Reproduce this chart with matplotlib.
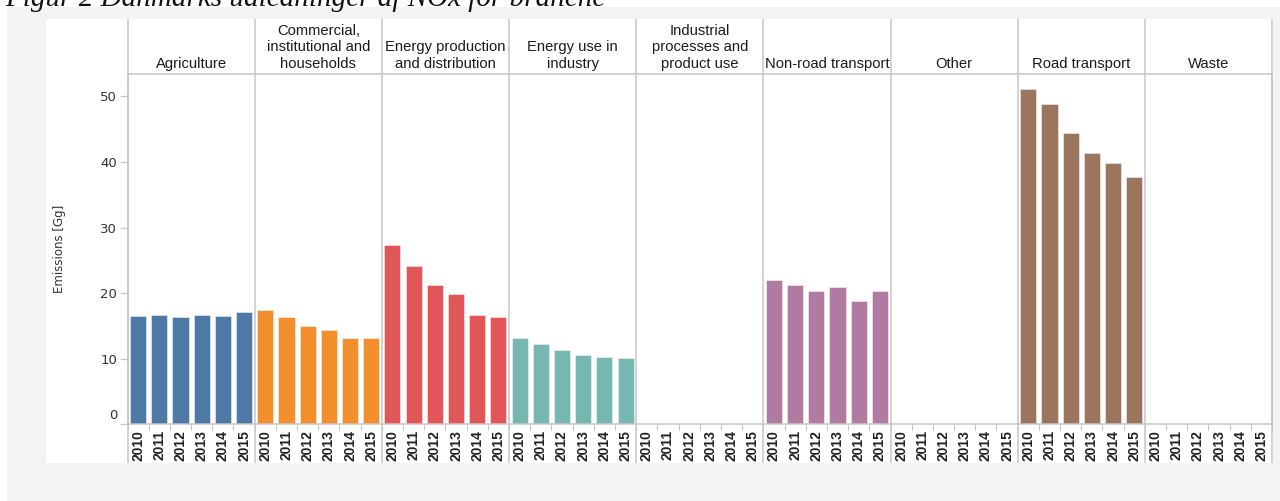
import matplotlib
matplotlib.use("Agg")
import matplotlib.pyplot as plt
import matplotlib.transforms as mtransforms
from matplotlib.patches import Rectangle
import numpy as np

# ---------------- data ----------------
years = ["2010", "2011", "2012", "2013", "2014", "2015"]
categories = ["Agriculture", "Commercial,\ninstitutional and\nhouseholds",
              "Energy production\nand distribution", "Energy use in\nindustry",
              "Industrial\nprocesses and\nproduct use", "Non-road transport",
              "Other", "Road transport", "Waste"]
agriculture = [16.5, 16.7, 16.3, 16.7, 16.5, 17.1]
commercial = [17.5, 16.3, 15.0, 14.4, 13.1, 13.1]
energy_production = [27.4, 24.1, 21.2, 19.8, 16.6, 16.3]
energy_industry = [13.1, 12.3, 11.3, 10.5, 10.3, 10.1]
industrial = [0, 0, 0, 0, 0, 0]
non_road = [22.0, 21.2, 20.4, 21.0, 18.8, 20.4]
other = [0, 0, 0, 0, 0, 0]
road = [51.1, 48.8, 44.5, 41.4, 39.9, 37.7]
waste = [0, 0, 0, 0, 0, 0]
series = [agriculture, commercial, energy_production, energy_industry,
          industrial, non_road, other, road, waste]
colors = ["#4e79a7", "#f28e2b", "#e15759", "#76b7b2", "#59a14f",
          "#b07aa1", "#edc948", "#9c755f", "#ff9da7"]
yticks = [0, 10, 20, 30, 40, 50]

# ---------------- figure ----------------
W, H = 1280, 501
fig = plt.figure(figsize=(W / 100, H / 100), dpi=100)
fig.patch.set_facecolor("white")

def fx(px):
    return px / W

def fy(py):
    return 1 - py / H

# gray page background and white chart area
fig.patches.append(Rectangle((fx(7), 0), 1 - fx(7), fy(7), transform=fig.transFigure,
                             facecolor="#f3f3f3", edgecolor="none", zorder=-3))
fig.patches.append(Rectangle((fx(46), fy(463.3)), fx(1272.5) - fx(46), (463.3 - 19) / H,
                             transform=fig.transFigure, facecolor="white",
                             edgecolor="none", zorder=-2))

# clipped caption at the very top
fig.text(fx(5), fy(5.5), "Figur 2 Danmarks udledninger af NOx for branche",
         family="Liberation Serif", style="italic", fontsize=21, color="#111111",
         va="baseline", ha="left", zorder=5)

top_px, base_px = 73.5, 424.3
ax = fig.add_axes([fx(127.5), fy(base_px), fx(1272) - fx(127.5), (base_px - top_px) / H])
ax.set_facecolor("none")

n_years = len(years)
n_cat = len(categories)
line_col = "#c6c6c6"

xt = []
xl = []
for i, (vals, col) in enumerate(zip(series, colors)):
    x = i * n_years + np.arange(n_years) + 0.5
    ax.bar(x, vals, width=0.76, color=col, edgecolor=(1, 1, 1, 0.55), linewidth=0.6, zorder=2)
    xt.extend(x)
    xl.extend(years)

ax.set_xlim(0, n_cat * n_years)
ax.set_ylim(0, 53.5)

# spines
for s in ["top", "bottom", "left", "right"]:
    ax.spines[s].set_color(line_col)
    ax.spines[s].set_linewidth(1.1)

# panel dividers extending through header and tick-label area
trans = ax.get_xaxis_transform()
y_low = (base_px - 463.3) / (base_px - top_px)
y_high = (base_px - 19) / (base_px - top_px)
bounds = np.arange(0, n_cat * n_years + 1, n_years)
ax.vlines(bounds, y_low, y_high, transform=trans, colors=line_col, linewidth=1.1,
          clip_on=False, zorder=3)

# panel headers
y_head = (base_px - 71.0) / (base_px - top_px)
for i, name in enumerate(categories):
    ax.text(i * n_years + n_years / 2, y_head, name, transform=trans, ha="center",
            va="bottom", fontsize=10.6, family="Liberation Sans", color="#1a1a1a",
            linespacing=1.24, multialignment="center")

# x ticks (years)
ax.set_xticks(xt)
ax.set_xticklabels(xl, rotation=90, fontsize=10, fontweight="bold",
                   family="Liberation Sans", color="#222222")
ax.tick_params(axis="x", which="major", length=0, pad=4.0)
ax.set_xticks(np.arange(0, n_cat * n_years + 1), minor=True)
ax.tick_params(axis="x", which="minor", length=4, width=0.8, color=line_col)

# y ticks
ax.set_yticks(yticks)
ax.set_yticklabels([str(v) for v in yticks], fontsize=9.5, family="DejaVu Sans", color="#333333")
ax.tick_params(axis="y", length=5.5, width=0.9, color=line_col, pad=2)
zero_tick = ax.yaxis.get_major_ticks()[0]
zero_tick.label1.set_transform(zero_tick.label1.get_transform() +
                               mtransforms.ScaledTranslation(0, 0.10, fig.dpi_scale_trans))

ax.set_ylabel("Emissions [Gg]", fontsize=8.5, family="DejaVu Sans", color="#333333")
ax.yaxis.set_label_coords((60 - 127.5) / (1272 - 127.5), 0.5)
ax.yaxis.label.set_verticalalignment("center")

fig.savefig("out.png", dpi=100, facecolor=fig.get_facecolor())
